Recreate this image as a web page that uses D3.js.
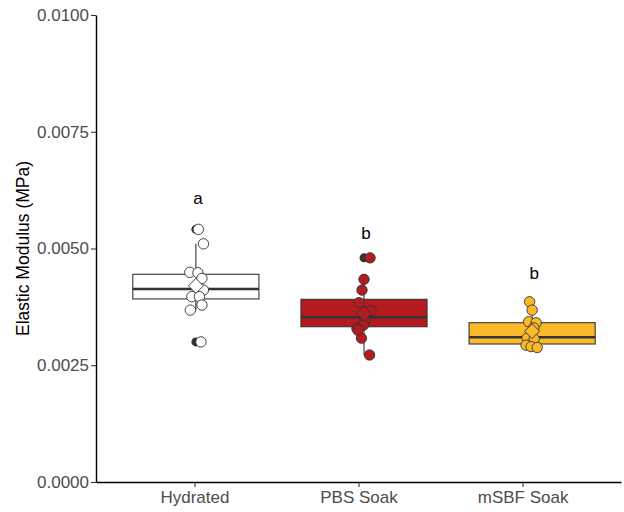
<!DOCTYPE html>
<html>
<head>
<meta charset="utf-8">
<script src="https://cdn.jsdelivr.net/npm/d3@7"></script>
<style>
    body { margin: 0; background: #fff; }
    svg { display: block; font-family: "Liberation Sans", Arial, sans-serif; }
</style>
</head>
<body>
<div id="chart"></div>
<script>
// DATA
// ================================================================ //
const groups = ["Hydrated", "PBS Soak", "mSBF Soak"];
const fills = ["#ffffff", "#b31b21", "#fbb829"];

// box statistics
const q1 = [0.00392, 0.003325, 0.002955];
const median = [0.004133, 0.003527, 0.003098];
const q3 = [0.004448, 0.003912, 0.003411];
const whiskerLo = [0.00368, 0.00272, 0.00288];
const whiskerHi = [0.00510, 0.00434, 0.00386];
const outliers = [[0.00541, 0.00300], [0.00480], []];
const means = [0.00420, 0.00361, 0.00323];

// individual samples, with their jitter (in category units)
const hydratedValues = [0.00541, 0.00510, 0.00449, 0.00448, 0.00436, 0.00411, 0.00397, 0.00397, 0.00379, 0.00368, 0.00300];
const hydratedJitter = [0.015, 0.045, -0.036, 0.012, 0.036, 0.045, -0.024, 0.021, 0.036, -0.033, 0.030];
const pbsValues = [0.00480, 0.00434, 0.00411, 0.00384, 0.00367, 0.00345, 0.00336, 0.00329, 0.00325, 0.00308, 0.00272];
const pbsJitter = [0.036, 0.0, -0.012, -0.030, 0.042, 0.006, -0.003, -0.042, -0.036, -0.015, 0.033];
const msbfValues = [0.00386, 0.00368, 0.00343, 0.00341, 0.00330, 0.00308, 0.00306, 0.00293, 0.00290, 0.00288];
const msbfJitter = [-0.015, 0.0, -0.021, 0.024, 0.010, -0.030, 0.012, -0.036, -0.006, 0.030];

// significance letters and the height they sit at
const letters = ["a", "b", "b"];
const letterY = [0.00608, 0.00533, 0.00448];

const yTicks = [0, 0.0025, 0.005, 0.0075, 0.01];
// ================================================================ //

const samples = [
    { values: hydratedValues, jitter: hydratedJitter },
    { values: pbsValues, jitter: pbsJitter },
    { values: msbfValues, jitter: msbfJitter },
];

const width = 624;
const height = 512;
const margin = { top: 15, right: 3, bottom: 30, left: 96 };

const svg = d3.select("#chart")
    .append("svg")
    .attr("width", width)
    .attr("height", height);

const y = d3.scaleLinear()
    .domain([0, 0.01])
    .range([height - margin.bottom, margin.top]);

// axis positions
const x = d3.scalePoint()
    .domain(groups)
    .range([margin.left, width - margin.right])
    .padding(0.6);

// the boxes sit slightly wider apart than the axis labels
const xBox = d3.scalePoint()
    .domain(groups)
    .range([margin.left - 1, width + 9])
    .padding(0.6);
const step = xBox.step();
const boxWidth = step * 0.75;

const stroke = "#333333";

// boxes
const g = svg.append("g");
groups.forEach((grp, i) => {
    const cx = xBox(grp);
    const bg = g.append("g");
    // whiskers
    bg.append("line")
        .attr("x1", cx).attr("x2", cx)
        .attr("y1", y(q3[i])).attr("y2", y(whiskerHi[i]))
        .attr("stroke", stroke).attr("stroke-width", 1.1);
    bg.append("line")
        .attr("x1", cx).attr("x2", cx)
        .attr("y1", y(q1[i])).attr("y2", y(whiskerLo[i]))
        .attr("stroke", stroke).attr("stroke-width", 1.1);
    bg.append("rect")
        .attr("x", cx - boxWidth / 2)
        .attr("y", y(q3[i]))
        .attr("width", boxWidth)
        .attr("height", y(q1[i]) - y(q3[i]))
        .attr("fill", fills[i])
        .attr("stroke", stroke)
        .attr("stroke-width", 1.1);
    bg.append("line")
        .attr("x1", cx - boxWidth / 2).attr("x2", cx + boxWidth / 2)
        .attr("y1", y(median[i])).attr("y2", y(median[i]))
        .attr("stroke", stroke).attr("stroke-width", 2.6);
    // outliers
    bg.selectAll("circle.out")
        .data(outliers[i])
        .join("circle")
        .attr("class", "out")
        .attr("cx", cx)
        .attr("cy", d => y(d))
        .attr("r", 4.5)
        .attr("fill", stroke);
});

// jittered samples
groups.forEach((grp, i) => {
    const cx = xBox(grp);
    g.append("g")
        .selectAll("circle")
        .data(samples[i].values)
        .join("circle")
        .attr("cx", (d, j) => cx + samples[i].jitter[j] * step)
        .attr("cy", d => y(d))
        .attr("r", 5.2)
        .attr("fill", fills[i])
        .attr("stroke", stroke)
        .attr("stroke-width", 0.9);
});

// mean diamonds
groups.forEach((grp, i) => {
    const cx = xBox(grp);
    const cy = y(means[i]);
    const s = 7.5;
    g.append("path")
        .attr("d", `M${cx},${cy - s}L${cx + s},${cy}L${cx},${cy + s}L${cx - s},${cy}Z`)
        .attr("fill", fills[i])
        .attr("stroke", stroke)
        .attr("stroke-width", 0.9);
});

// letters
svg.append("g")
    .selectAll("text")
    .data(letters)
    .join("text")
    .attr("x", (d, i) => xBox(groups[i]) + 2)
    .attr("y", (d, i) => y(letterY[i]))
    .attr("dy", "0.35em")
    .attr("text-anchor", "middle")
    .attr("font-size", 17)
    .attr("fill", "#000")
    .text(d => d);

// axes
const yAxis = svg.append("g")
    .attr("transform", `translate(${margin.left},0)`)
    .call(d3.axisLeft(y)
        .tickValues(yTicks)
        .tickFormat(d3.format(".4f"))
        .tickSize(5)
        .tickSizeOuter(0)
        .tickPadding(2));

const xAxis = svg.append("g")
    .attr("transform", `translate(0,${height - margin.bottom})`)
    .call(d3.axisBottom(x)
        .tickSize(5)
        .tickSizeOuter(0)
        .tickPadding(4));

[yAxis, xAxis].forEach(ax => {
    ax.select(".domain").attr("stroke", "#000").attr("stroke-width", 1.4);
    ax.selectAll(".tick line").attr("stroke", "#333").attr("stroke-width", 1.1);
    ax.selectAll(".tick text")
        .attr("fill", "#4d4d4d")
        .attr("font-size", 17)
        .attr("font-family", "'Liberation Sans', Arial, sans-serif");
});

// y axis title
svg.append("text")
    .attr("transform", `translate(29,${(margin.top + height - margin.bottom) / 2}) rotate(-90)`)
    .attr("text-anchor", "middle")
    .attr("font-size", 17.5)
    .attr("fill", "#000")
    .text("Elastic Modulus (MPa)");
</script>
</body>
</html>
